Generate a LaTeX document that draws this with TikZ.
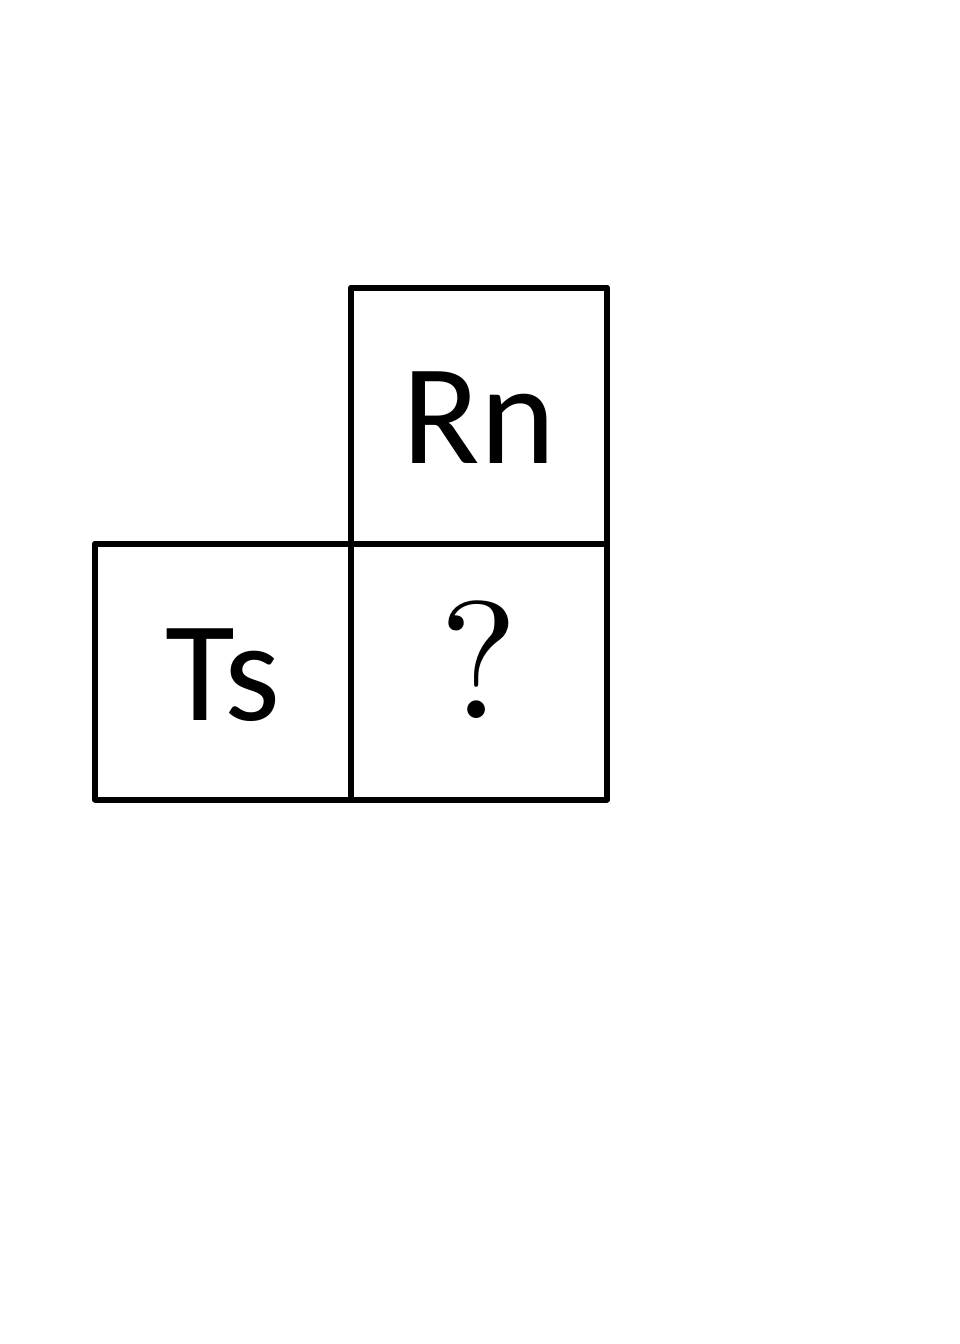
\documentclass[tikz,border=0pt]{standalone}
\usepackage{fontspec}
\setmainfont{Carlito}
\newfontfamily\qfont{lmroman10-regular.otf}
\usetikzlibrary{positioning}
\tikzset{
    cell/.style={rectangle, draw=black, line width=6pt, line join=round, minimum size=256pt, outer sep=0pt, inner sep=0pt, text depth=0pt, font=\fontsize{143}{150}\selectfont},
    qmark/.style={text height=93pt, font=\qfont\fontsize{167}{172}\selectfont}
}
\begin{document}
\begin{tikzpicture}[x=1pt, y=1pt, node distance=0pt]
    \useasboundingbox (0,0) rectangle (960,-1344);
    % the unknown cell, then its two neighbours
    \node (q) [cell, qmark] at (479,-671.5) {?};
    \node (rn) [cell, text height=95pt, above=of q] {Rn};
    \node (ts) [cell, text height=97pt, left=of q] {Ts};
\end{tikzpicture}
\end{document}
